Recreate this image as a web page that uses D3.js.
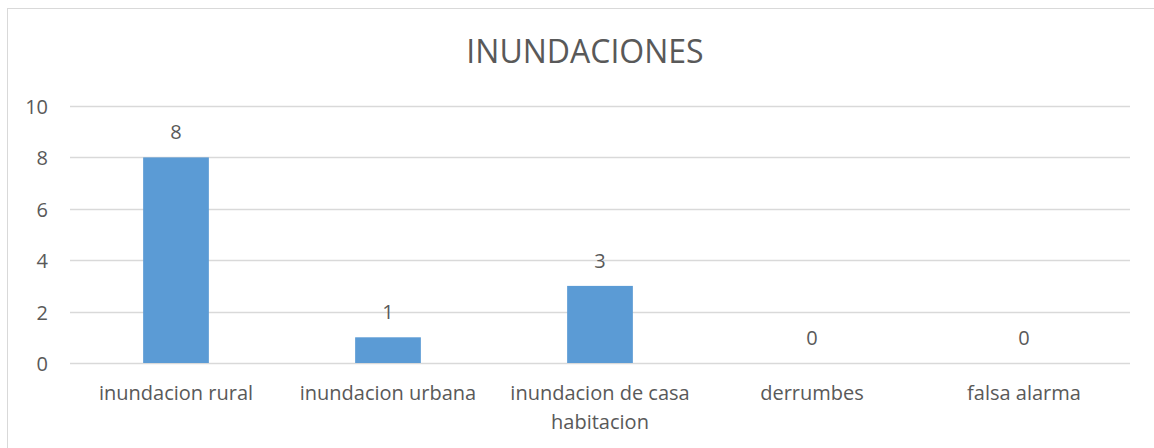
<!DOCTYPE html>
<html>
<head>
<meta charset="utf-8">
<title>INUNDACIONES</title>
<script src="https://cdn.jsdelivr.net/npm/d3@7"></script>
<style>
body { margin: 0; background: #fff; }
svg text { font-family: "Open Sans", "Noto Sans", sans-serif; fill: #595959; }
</style>
</head>
<body>
<svg id="chart" width="1154" height="448"></svg>
<script>
var categories = [["inundacion rural"], ["inundacion urbana"], ["inundacion de casa", "habitacion"], ["derrumbes"], ["falsa alarma"]];
var values = [8, 1, 3, 0, 0];
var yTicks = [0, 2, 4, 6, 8, 10];
var title = "INUNDACIONES";

var svg = d3.select('#chart');
var margin = {left: 70, right: 24, top: 106, bottom: 85},
    w = 1154 - margin.left - margin.right,
    h = 448 - margin.top - margin.bottom;

// outer frame (only left/top visible in the crop)
svg.append('rect')
    .attr('x', 7.5).attr('y', 8.5)
    .attr('width', 1160).attr('height', 460)
    .attr('fill', 'none').attr('stroke', '#d9d9d9');

svg.append('text')
    .attr('x', 585).attr('y', 63)
    .attr('text-anchor', 'middle')
    .style('font-size', '32px')
    .text(title);

var g = svg.append('g').attr('transform', 'translate(' + margin.left + ',' + margin.top + ')');

var x = d3.scaleBand().domain(d3.range(values.length)).range([0, w]).paddingInner(0.69).paddingOuter(0.345);
var y = d3.scaleLinear().domain([0, 10]).range([h, 0]);

g.selectAll('.grid').data(yTicks).enter().append('line')
    .attr('x1', 0).attr('x2', w)
    .attr('y1', function(d) { return Math.round(y(d)) + 0.5; })
    .attr('y2', function(d) { return Math.round(y(d)) + 0.5; })
    .attr('stroke', '#d9d9d9').attr('stroke-width', 1.3);

g.selectAll('.ylab').data(yTicks).enter().append('text')
    .attr('x', -22).attr('y', function(d) { return y(d) + 8; })
    .attr('text-anchor', 'end')
    .style('font-size', '20px')
    .text(function(d) { return d; });

g.selectAll('.bar').data(values).enter().append('rect')
    .attr('x', function(d, i) { return x(i); })
    .attr('y', function(d) { return y(d); })
    .attr('width', x.bandwidth())
    .attr('height', function(d) { return h - y(d); })
    .attr('fill', '#5b9bd5');

g.selectAll('.val').data(values).enter().append('text')
    .attr('x', function(d, i) { return x(i) + x.bandwidth() / 2; })
    .attr('y', function(d) { return y(d) - 18; })
    .attr('text-anchor', 'middle')
    .style('font-size', '20px')
    .text(function(d) { return d; });

var xl = g.selectAll('.xlab').data(categories).enter().append('text')
    .attr('x', function(d, i) { return x(i) + x.bandwidth() / 2; })
    .attr('y', h + 37)
    .attr('text-anchor', 'middle')
    .style('font-size', '20px');
xl.each(function(d) {
    var t = d3.select(this);
    d.forEach(function(line, k) {
        t.append('tspan')
            .attr('x', t.attr('x'))
            .attr('dy', k ? 29 : 0)
            .text(line);
    });
});
</script>
</body>
</html>
